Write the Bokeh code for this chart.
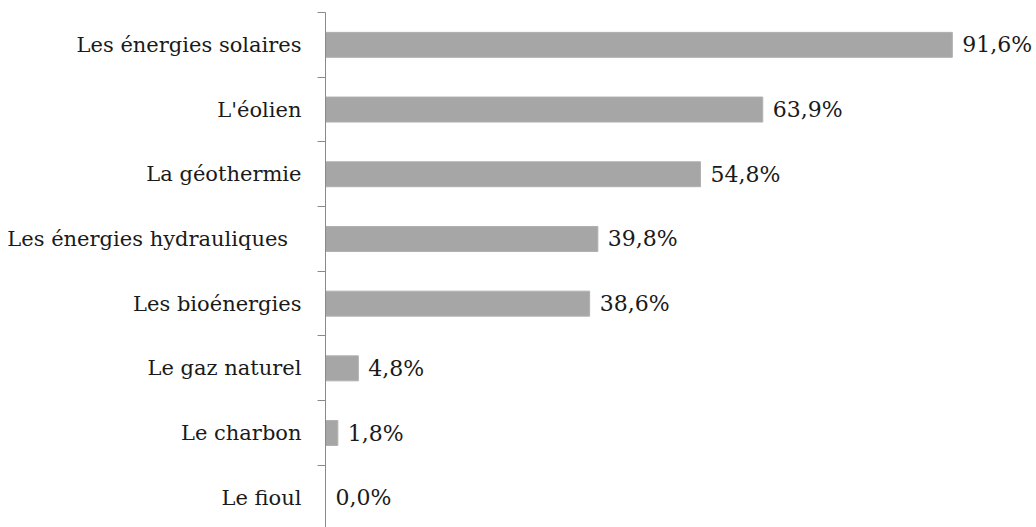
from bokeh.plotting import figure
from bokeh.models import Range1d, FixedTicker, LinearAxis
from bokeh.core.properties import value
from bokeh.embed import file_html
from bokeh.resources import INLINE

categories = [
    "Les énergies solaires",
    "L'éolien",
    "La géothermie",
    "Les énergies hydrauliques\u00a0\u00a0",
    "Les bioénergies",
    "Le gaz naturel",
    "Le charbon",
    "Le fioul",
]
values = [91.6, 63.9, 54.8, 39.8, 38.6, 4.8, 1.8, 0.0]

ypos = list(range(len(categories)))
labels = [f"{v:.1f}%".replace(".", ",") for v in values]
boundaries = [i - 0.5 for i in range(len(categories))]

FONT = "DejaVu Serif"

p = figure(
    width=1036, height=527,
    output_backend="svg", toolbar_location=None,
    x_range=Range1d(0, 103.9), y_range=Range1d(7.46, -0.5),
    x_axis_location=None, y_axis_location=None,
    min_border_left=325, min_border_right=0, min_border_top=12, min_border_bottom=0,
)
p.outline_line_color = None
p.xgrid.visible = False
p.ygrid.visible = False

p.hbar(y=ypos, left=0, right=values, height=0.386, fill_color="#a6a6a6", line_color="#b0b0b0", line_width=1)

p.text(x=values, y=ypos, text=labels, x_offset=10, text_baseline="middle", text_align="left",
       text_font=value(FONT), text_font_size="22px", text_color="#1a1a1a")

ax = LinearAxis(ticker=FixedTicker(ticks=ypos, minor_ticks=boundaries))
ax.major_label_overrides = {i: c for i, c in zip(ypos, categories)}
ax.major_tick_out = 0
ax.major_tick_in = 0
ax.minor_tick_out = 8
ax.minor_tick_in = 0
ax.minor_tick_line_color = "#8a8a8a"
ax.axis_line_color = "#8a8a8a"
ax.axis_line_width = 1
ax.major_label_standoff = 16
ax.major_label_text_font = FONT
ax.major_label_text_font_size = "21px"
ax.major_label_text_color = "#1a1a1a"
p.add_layout(ax, "left")

open("out.html", "w").write(file_html(p, INLINE))
